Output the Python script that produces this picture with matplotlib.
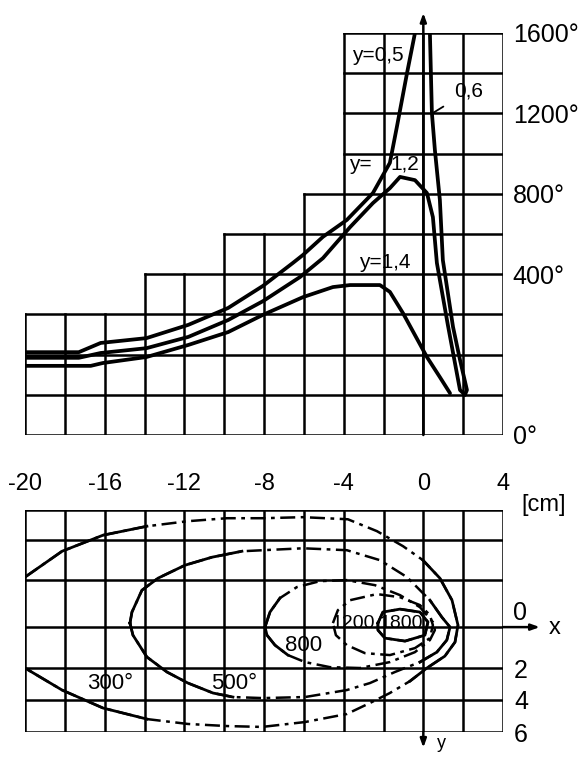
import numpy as np
import matplotlib
matplotlib.use("Agg")
import matplotlib.pyplot as plt

plt.rcParams["font.family"] = ["Liberation Sans", "DejaVu Sans"]

W, H = 587, 758  # px, dpi 100

# ── top panel: temperature along lines y = const ──
col_edges = np.arange(-20, 5, 2)                      # cm
col_tops = [3, 3, 3, 4, 4, 5, 5, 6, 10, 10, 10, 10]   # staircase height (grid rows)
temp_ticks = [10, 8, 6, 4, 0]                         # grid rows
temp_labels = ["1600°", "1200°", "800°", "400°", "0°"]

# temperature in grid rows, x in cm
x_y05 = [-20.0, -17.3, -16.2, -13.9, -11.8, -9.8, -8.05, -6.55, -6.04, -5.04, -3.84, -2.53, -1.68, -1.33, -0.82, -0.42]
t_y05 = [2.06, 2.06, 2.29, 2.41, 2.74, 3.16, 3.71, 4.28, 4.48, 4.93, 5.35, 6.02, 6.77, 7.66, 9.0, 10.0]
x_y06 = [0.33, 0.43, 0.58, 0.83, 0.98, 1.49, 1.84, 2.19, 2.09]
t_y06 = [10.0, 8.01, 7.09, 5.85, 4.35, 2.69, 1.87, 1.12, 1.0]
x_y12 = [-20.0, -17.3, -16.2, -13.9, -11.8, -9.8, -8.05, -6.19, -5.04, -3.68, -2.53, -1.68, -1.17, -0.42, 0.18, 0.48, 0.68, 1.23, 1.84, 2.09]
t_y12 = [1.92, 1.92, 2.04, 2.16, 2.44, 2.86, 3.33, 3.93, 4.40, 5.17, 5.77, 6.14, 6.42, 6.34, 6.02, 5.42, 4.28, 2.74, 1.12, 1.0]
x_y14 = [-20.0, -16.7, -16.1, -13.9, -11.8, -9.8, -8.05, -6.04, -4.54, -3.68, -2.18, -1.68, -1.02, 0.18, 0.83, 1.34]
t_y14 = [1.72, 1.72, 1.79, 1.94, 2.24, 2.56, 2.99, 3.43, 3.68, 3.73, 3.73, 3.56, 3.03, 1.94, 1.44, 1.04]

# ── bottom panel: isotherms in the plane (x, y) ──
plan_rows = [-6.7, -5.0, -2.7, 0.0, 2.35, 4.15, 6.0]  # cm (as drawn)
plan_ticks = [2.35, 4.15, 6.0]
plan_labels = ["2", "4", "6"]
x_ticks = [-20, -16, -12, -8, -4, 0, 4]

iso_300 = [(-20.0, -2.86), (-18.14, -4.34), (-16.08, -5.26), (-13.88, -5.77), (-11.82, -6.06),
           (-9.86, -6.23), (-8.05, -6.23), (-6.04, -6.29), (-3.79, -6.17), (-2.33, -5.49),
           (-1.02, -4.63), (-0.02, -3.83), (0.83, -2.80), (1.44, -1.54), (1.74, -0.11),
           (1.59, 0.86), (1.08, 1.66), (0.18, 2.34), (-0.67, 3.09), (-1.68, 3.77), (-2.68, 4.34),
           (-3.84, 4.97), (-5.94, 5.43), (-8.10, 5.71), (-9.86, 5.66), (-11.82, 5.54),
           (-13.88, 5.26), (-16.08, 4.63), (-18.14, 3.60), (-20.0, 2.34)]
iso_500 = [(-14.73, -0.23), (-14.63, -0.86), (-14.13, -2.11), (-13.32, -2.80), (-11.97, -3.54),
           (-10.61, -4.0), (-9.11, -4.34), (-8.05, -4.40), (-6.04, -4.51), (-3.84, -4.40),
           (-2.18, -3.83), (-0.82, -2.86), (0.33, -1.54), (0.93, -0.57), (1.34, 0.0),
           (1.18, 0.74), (0.68, 1.43), (-0.17, 2.0), (-1.43, 2.57), (-2.68, 3.2), (-3.84, 3.6),
           (-5.94, 4.0), (-8.05, 4.06), (-9.56, 4.0), (-10.56, 3.77), (-11.82, 3.20),
           (-12.87, 2.57), (-13.88, 1.71), (-14.58, 0.46), (-14.73, -0.23)]
iso_800 = [(-7.95, 0.0), (-7.70, -0.86), (-7.20, -1.66), (-6.35, -2.29), (-5.19, -2.63),
           (-3.84, -2.69), (-2.43, -2.40), (-1.17, -1.83), (-0.17, -1.14), (0.48, -0.29),
           (0.58, 0.17), (0.33, 0.74), (-0.42, 1.43), (-1.68, 2.0), (-3.18, 2.34), (-4.69, 2.29),
           (-5.94, 2.0), (-6.80, 1.6), (-7.45, 1.03), (-7.85, 0.46), (-7.95, 0.0)]
iso_1200 = [(-4.54, -0.23), (-4.29, -0.97), (-3.68, -1.54), (-2.33, -1.89), (-1.17, -1.71),
            (-0.17, -1.26), (0.33, -0.69), (0.48, -0.11), (0.33, 0.63), (-0.42, 1.2),
            (-1.68, 1.6), (-2.93, 1.49), (-3.84, 1.03), (-4.39, 0.46), (-4.54, -0.23)]
iso_1800 = [(-2.28, -0.23), (-2.03, -0.86), (-1.17, -1.03), (-0.17, -0.86), (0.23, -0.29),
            (0.08, 0.46), (-0.92, 0.8), (-1.93, 0.63), (-2.28, 0.17), (-2.28, -0.23)]

fig = plt.figure(figsize=(W / 100, H / 100), dpi=100)
GRID = dict(color="k", lw=1.8, solid_capstyle="projecting")
ARROW = dict(arrowstyle="-|>,head_length=0.5,head_width=0.18",
             color="k", lw=1.8, shrinkA=0, shrinkB=0)

# ==================================================================
# top: T(x) curves on a staircase grid
# ==================================================================
ax1 = fig.add_axes([25 / W, (H - 435) / H, 478 / W, 402 / H])
ax1.set_xlim(-20, 4)
ax1.set_ylim(0, 10)
for s in ax1.spines.values():
    s.set_visible(False)

# vertical grid lines: as high as the taller neighbour column
for i, xe in enumerate(col_edges):
    left = col_tops[i - 1] if i > 0 else 0
    right = col_tops[i] if i < len(col_tops) else 0
    ax1.plot([xe, xe], [0, max(left, right)], **GRID)
# horizontal grid lines over the columns that reach that row
for r in range(0, 11):
    cols = [i for i, t in enumerate(col_tops) if t >= r]
    ax1.plot([col_edges[cols[0]], col_edges[cols[-1] + 1]], [r, r], **GRID)

for xs, ts in [(x_y05, t_y05), (x_y06, t_y06), (x_y12, t_y12), (x_y14, t_y14)]:
    ax1.plot(xs, ts, color="k", lw=2.7, solid_joinstyle="round", solid_capstyle="round")

ax1.annotate("", xy=(0, 10.5), xytext=(0, 0), annotation_clip=False, arrowprops=ARROW)

ax1.yaxis.tick_right()
ax1.set_yticks(temp_ticks, temp_labels)
ax1.tick_params(axis="y", length=0, pad=7, labelsize=18)
ax1.set_xticks([])

lbl = dict(fontsize=15, ha="center", va="center")
ax1.text(-2.3, 9.43, "y=0,5", **lbl)
ax1.text(-3.18, 6.74, "y=", **lbl)
ax1.text(-0.92, 6.74, "1,2", **lbl)
ax1.text(-1.93, 4.30, "y=1,4", **lbl)
ax1.annotate("0,6", xy=(0.48, 8.01), xytext=(2.29, 8.56), fontsize=15,
             ha="center", va="center",
             arrowprops=dict(arrowstyle="-", color="k", lw=1.3, shrinkA=7, shrinkB=0))

# ==================================================================
# bottom: isotherms in the plate
# ==================================================================
ax2 = fig.add_axes([25 / W, (H - 732) / H, 478 / W, 222 / H])
ax2.set_xlim(-20, 4)
ax2.set_ylim(plan_rows[-1], plan_rows[0])
for s in ax2.spines.values():
    s.set_visible(False)

for xe in col_edges:
    ax2.plot([xe, xe], [plan_rows[0], plan_rows[-1]], **GRID)
for r in plan_rows:
    ax2.plot([-20, 4], [r, r], **GRID)

# axis arrows
ax2.annotate("", xy=(5.85, 0), xytext=(4, 0), annotation_clip=False, arrowprops=ARROW)
ax2.annotate("", xy=(0, 6.9), xytext=(0, 6.0), annotation_clip=False, arrowprops=ARROW)


def draw_iso(pts, solid_left, solid_right):
    x, v = np.array(pts).T
    ax2.plot(x, v, color="k", lw=1.8, dashes=(6, 2.2, 1.5, 2.2))
    solid = (x <= solid_left) | (x >= solid_right)
    ax2.plot(x, np.where(solid, v, np.nan), color="k", lw=2.0)


draw_iso(iso_300, -12, -1.0)
draw_iso(iso_500, -9, -0.5)
draw_iso(iso_800, -6.5, 9)
draw_iso(iso_1200, -99, 9)
draw_iso(iso_1800, 9, -99)

ax2.xaxis.tick_top()
ax2.set_xticks(x_ticks, [str(t) for t in x_ticks])
ax2.tick_params(axis="x", length=0, pad=11, labelsize=17)
ax2.yaxis.tick_right()
ax2.set_yticks(plan_ticks, plan_labels)
ax2.tick_params(axis="y", length=0, pad=8, labelsize=18)

ax2.text(4.85, -0.8, "0", fontsize=18, ha="center", va="center", clip_on=False)
ax2.text(6.6, 0.05, "x", fontsize=17, ha="center", va="center", clip_on=False)
ax2.text(0.93, 6.2, "y", fontsize=13, ha="center", va="top", clip_on=False)
ax2.text(6.05, -7.0, "[cm]", fontsize=17, ha="center", va="center", clip_on=False)

iso = dict(ha="center", va="center", fontsize=16)
ax2.text(-15.7, 3.2, "300°", **iso)
ax2.text(-9.5, 3.2, "500°", **iso)
ax2.text(-6.0, 1.03, "800", **iso)
ax2.text(-3.5, -0.23, "1200", ha="center", va="center", fontsize=14)
ax2.text(-1.1, -0.23, "1800", ha="center", va="center", fontsize=14)

fig.savefig("out.png", dpi=100, facecolor="white")
